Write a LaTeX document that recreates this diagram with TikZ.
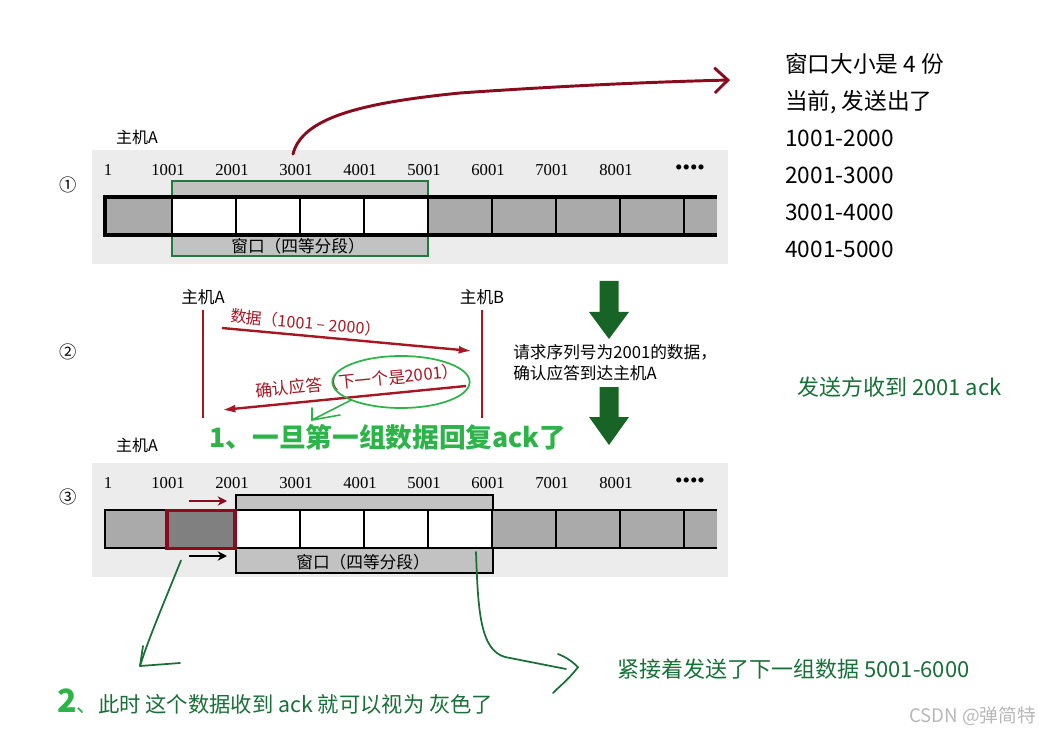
\documentclass[tikz,border=0pt]{standalone}
\usepackage{fontspec}
\setmainfont{Liberation Serif}
\newfontfamily\cjk{Noto Sans CJK SC}
\usepackage{xcolor}
\definecolor{paper}{RGB}{236,236,236}
\definecolor{cell}{RGB}{170,170,170}
\definecolor{winfill}{RGB}{194,194,194}
\definecolor{acked}{RGB}{128,128,128}
\definecolor{wine}{RGB}{138,10,30}
\definecolor{seqred}{RGB}{168,22,34}
\definecolor{wingreen}{RGB}{34,122,62}
\definecolor{forest}{RGB}{24,100,38}
\definecolor{lime}{RGB}{44,180,72}
\definecolor{pine}{RGB}{24,112,56}
\usepackage{tikz}
\usetikzlibrary{arrows.meta,positioning,calc,shapes.geometric}

\tikzset{
  num/.style={font=\fontsize{12.5}{13}\selectfont, inner sep=0pt},
  cn/.style={font=\cjk\fontsize{#1}{#1}\selectfont, inner sep=0pt},
  life/.style={draw=seqred, line width=2.2pt},
  msg/.style={draw=seqred, line width=1.8pt, -{Latex[length=10pt,width=6pt]}},
  hand/.style={draw=pine, line width=1.3pt, line cap=round, line join=round},
}

\begin{document}
\begin{tikzpicture}[x=0.75pt,y=-0.75pt]
\useasboundingbox (0,0) rectangle (1039,734);
\fill[white] (0,0) rectangle (1039,734);

%% panel 1: window over 1001-5000
\fill[paper] (92,150) rectangle (728,264);
\node[cn=12] (topA) at (137,137) {主机A};
\node[cn=13] (s1) at (68,185) {①};
\filldraw[fill=winfill, draw=wingreen, line width=1.5pt] (172,181) rectangle (428,256);
\node[cn=12.5] (win1) at (298,246) {窗口（四等分段）};
\fill[cell] (105,197) rectangle (717,235);
\fill[white] (172,197) rectangle (428,235);
\foreach \x in {172,236,...,684}
  \draw[line width=1.4pt] (\x,197) -- (\x,235);
\draw[line width=2.6pt] (717,197) -- (105,197) -- (105,235) -- (717,235);
\node[num] (a1) at (108,170) {1};
\foreach \n [count=\i] in {1001,2001,...,8001}
  \node[num] (a\n) at (104+64*\i,170) {\n};
\node[num, font=\fontsize{16}{16}\selectfont] (adots) at (690,170) {••••};

%% window size note
\node[font=\cjk\fontsize{17}{27.75}\selectfont, anchor=west, align=left, inner sep=0pt] (sent) at (785,155.5)
  {窗口大小是 4 份\\当前, 发送出了\\1001-2000\\2001-3000\\3001-4000\\4001-5000};
\coordinate (tipR) at (730,80);
\draw[wine, line width=2.2pt, line cap=round, -{Straight Barb[length=10pt,width=19pt]}]
  ($(a3001.north)+(-3,-10)$) .. controls (302,118) and (360,103) .. (460,93)
  .. controls (560,86) and (650,82) .. (tipR);

%% panel 2: exchange between hosts
\node[cn=13] (s2) at (68,352) {②};
\node[cn=12.5] (hostA) at (203,297) {主机A};
\node[cn=12.5] (hostB) at (482,297) {主机B};
\draw[life] (hostA.south) ++(0,5) -- ++(0,108);
\draw[life] (hostB.south) ++(0,5) -- ++(0,108);
\coordinate (d1) at (222,328);
\coordinate (d2) at (472,351);
\coordinate (k1) at (466,386);
\coordinate (k2) at (222,410);
\draw[msg] (d1) -- (d2)
  node[pos=0.33, sloped, above=3pt, cn=12, text=seqred] (dlab) {数据（1001 – 2000）};
\draw[msg] (k1) -- (k2)
  node[pos=0.44, sloped, above=5pt, cn=12.5, text=seqred] (klab) {确认应答（下一个是2001）};
\node[draw=lime, line width=1.3pt, ellipse, minimum width=103pt, minimum height=39pt] (ring) at (401,382) {};

\node[font=\cjk\bfseries\fontsize{20}{20}\selectfont, text=lime, inner sep=0pt] (note1) at (388,437)
  {1、一旦第一组数据回复ack了};
\coordinate (tip1) at (312,420);
\draw[draw=lime, line width=1.2pt, line cap=round] (ring.200) -- (tip1);
\draw[draw=lime, line width=1.2pt, line cap=round] (tip1) ++(0,-12) -- (tip1) -- ++(28,-5);

\foreach \t/\h/\b in {281/312/339, 387/417/445}
  \fill[forest] (599.5,\t) -- (618.5,\t) -- (618.5,\h) -- (629,\h) -- (609,\b)
    -- (589,\h) -- (599.5,\h) -- cycle;
\node[font=\cjk\fontsize{12.5}{15.75}\selectfont, anchor=west, align=left, inner sep=0pt] (req) at (513,362.5)
  {请求序列号为2001的数据，\\确认应答到达主机A};
\node[cn=16.5, text=pine, anchor=west] (got) at (797,387) {发送方收到 2001 ack};

%% panel 3: window slid to 2001-6000
\fill[paper] (92,463) rectangle (728,577);
\node[cn=12] (botA) at (137,445) {主机A};
\node[cn=13] (s3) at (68,497) {③};
\filldraw[fill=winfill, draw=black, line width=1pt] (236,495) rectangle (493,573);
\node[cn=12.5] (win3) at (363,562) {窗口（四等分段）};
\fill[cell] (105,510) rectangle (717,548);
\fill[white] (236,510) rectangle (493,548);
\foreach \x in {236,300,...,684}
  \draw[line width=1.2pt] (\x,510) -- (\x,548);
\draw[line width=1.5pt] (717,510) -- (105,510) -- (105,548) -- (717,548);
\node[draw=wine, fill=acked, line width=2.4pt, inner sep=0pt,
      minimum width=51pt, minimum height=29pt] (ackbox) at (201,529.5) {};
\node[num] (b1) at (108,483) {1};
\foreach \n [count=\i] in {1001,2001,...,8001}
  \node[num] (b\n) at (104+64*\i,483) {\n};
\node[num, font=\fontsize{16}{16}\selectfont] (bdots) at (690,483) {••••};
\coordinate (p1) at (189,501);
\coordinate (p2) at (189,556);
\draw[wine, line width=2pt, -{Stealth[length=7pt,width=7pt]}] (p1) -- ++(38,0);
\draw[black, line width=2pt, -{Stealth[length=7pt,width=7pt]}] (p2) -- ++(38,0);

%% hand notes
\coordinate (g1t) at (140,666);
\draw[hand] ($(ackbox.south)+(-20,10)$) .. controls (165,600) and (148,640) .. (g1t);
\draw[hand] (g1t) ++(3,-20) -- (g1t) -- ++(40,-3);
\coordinate (g2t) at (578,667);
\draw[hand] (476,552) .. controls (478,610) and (480,650) .. (505,657) -- (566,669);
\draw[hand] (558,654) .. controls (572,659) and (580,670) .. (g2t) .. controls (570,678) and (560,686) .. (553,693);
\node[cn=16.5, text=pine, anchor=west] (next) at (617,669) {紧接着发送了下一组数据 5001-6000};
\node[cn=16, text=pine, anchor=west] (note2) at (57,702)
  {{\bfseries\fontsize{24}{24}\selectfont\color{lime}2}{\color{lime}、}此时 这个数据收到 ack 就可以视为 灰色了};
\node[cn=14, text=black!28, anchor=east] (mark) at (1036,716) {CSDN @弹简特};
\end{tikzpicture}
\end{document}
